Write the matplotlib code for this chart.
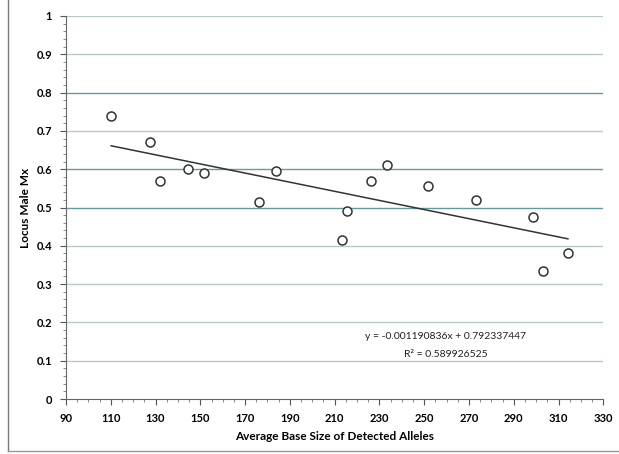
import matplotlib.pyplot as plt
from matplotlib.ticker import MultipleLocator
from matplotlib.lines import Line2D

# average base size vs locus male mixture ratio
base_size = [110.2, 127.4, 132.2, 144.5, 151.5, 176.2, 183.6, 213.5, 215.7,
             226.3, 233.3, 251.8, 273.3, 298.8, 303.2, 314.2]
male_mx = [0.74, 0.67, 0.57, 0.60, 0.59, 0.515, 0.595, 0.415, 0.49,
           0.57, 0.61, 0.555, 0.52, 0.475, 0.335, 0.38]

slope = -0.001190836
intercept = 0.792337447
r_squared = 0.589926525

x_ticks = list(range(90, 331, 20))
y_ticks = [0, 0.1, 0.2, 0.3, 0.4, 0.5, 0.6, 0.7, 0.8, 0.9, 1]
y_tick_labels = ['0', '0.1', '0.2', '0.3', '0.4', '0.5', '0.6', '0.7', '0.8', '0.9', '1']

plt.rcParams['font.family'] = ['Lato', 'DejaVu Sans']

fig = plt.figure(figsize=(6.19, 4.54), dpi=100)
ax = fig.add_axes([0.1066, 0.1211, 0.868, 0.8437])

# gridlines (scan shows some darker teal, some lighter)
dark = {0.5, 0.6, 0.8}
for yv in y_ticks[1:]:
    c = '#5f9ea0' if yv in dark else '#b9c9cc'
    ax.axhline(yv, color=c, linewidth=1.0, zorder=1)

ax.scatter(base_size, male_mx, s=42, facecolors='white', edgecolors='#333333',
           linewidths=1.1, zorder=3)

x0, x1 = min(base_size), max(base_size)
ax.plot([x0, x1], [slope * x0 + intercept, slope * x1 + intercept],
        color='#333333', linewidth=1.1, zorder=2)

ax.text(259.7, 0.164, f"y = {slope:.9f}x + {intercept:.9f}", ha='center', va='center',
        fontsize=7.5, color='#222222')
ax.text(259.7, 0.115, f"R² = {r_squared:.9f}", ha='center', va='center',
        fontsize=7.5, color='#222222')

ax.set_xlim(90, 330)
ax.set_ylim(0, 1)
ax.set_xticks(x_ticks)
ax.set_xticklabels([str(v) for v in x_ticks], fontweight='bold', fontsize=8)
ax.set_yticks(y_ticks)
ax.set_yticklabels(y_tick_labels, fontweight='bold', fontsize=8)
ax.xaxis.set_minor_locator(MultipleLocator(5))
ax.yaxis.set_minor_locator(MultipleLocator(0.02))
ax.tick_params(which='major', length=4, color='#555555', pad=6)
ax.tick_params(which='minor', length=2, color='#777777')

for s in ['top', 'right']:
    ax.spines[s].set_visible(False)
for s in ['left', 'bottom']:
    ax.spines[s].set_color('#666666')

ax.set_xlabel('Average Base Size of Detected Alleles', fontweight='bold', fontsize=8.5, labelpad=5)
ax.set_ylabel('Locus Male Mx', fontweight='bold', fontsize=8.5, labelpad=4)

# chart frame edges visible in scan (left and bottom)
fig.add_artist(Line2D([8 / 619, 8 / 619], [3 / 454, 1.0], transform=fig.transFigure,
                      color='#777777', linewidth=1.0))
fig.add_artist(Line2D([8 / 619, 1.0], [3 / 454, 3 / 454], transform=fig.transFigure,
                      color='#999999', linewidth=1.0))

fig.savefig('out.png', dpi=100)
